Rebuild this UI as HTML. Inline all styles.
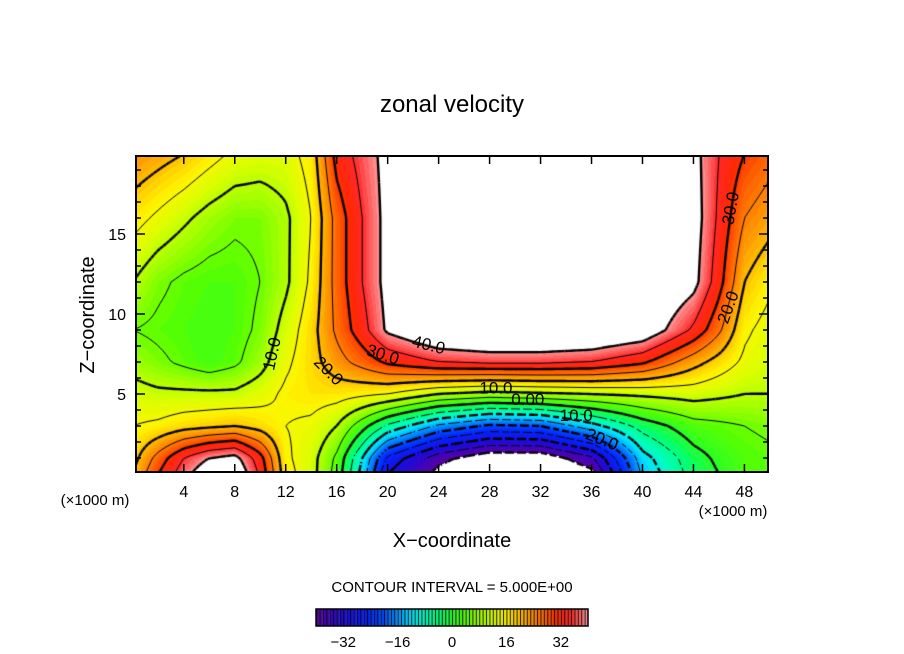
<!DOCTYPE html>
<html><head><meta charset="utf-8"><style>
body{margin:0;background:#fff;width:904px;height:654px;overflow:hidden;position:relative;font-family:"Liberation Sans",sans-serif}
canvas,svg{position:absolute;left:0;top:0}
</style></head><body>
<canvas id="fill" width="904" height="654"></canvas>
<svg id="ov" width="904" height="654" font-family="Liberation Sans, sans-serif"></svg>
<script>
// data
const xCoords=[0,2,4,6,8,10,12,14,16,18,20,24,28,32,36,40,44,46,48,50];
const zCoords=[0,1,3,5,7,9,12,16,20];
const uZ0 =[20,30,38,45,46,34,17,12,3,-12,-30,-42,-48,-48,-42,-14,-3,0,3,4];
const uZ1 =[18,27,35,40,42,32,16,12,4,-10,-26,-38,-44,-44,-36,-12,-2,1,3,4];
const uZ3 =[15,16,18,19,20,18,15,14,10,2,-6,-16,-21,-20,-12,-3,3,4,5,6];
const uZ5 =[12,11,11,11,11,13,16,17,17,16,15,10,8,9,10,11,12,11,10,10];
const uZ7 =[8,6,4,2,4,8,14,18,23,27,31,35,36,36,35,31,22,18,14,12];
const uZ9 =[5,4,3,2,3,6,12,18,26,33,41,47,49,49,48,45,34,26,16,13];
const uZ12=[10,6,4,3,3,5,9,16,27,35,42,50,50,50,50,48,42,32,20,16];
const uZ16=[17,14,11,8,6,6,9,15,27,35,42,50,50,50,50,48,43,34,25,22];
const uZ20=[24,22,20,17,14,13,13,17,32,37,42,50,50,50,50,48,42,35,30,27];
const rows=[uZ0,uZ1,uZ3,uZ5,uZ7,uZ9,uZ12,uZ16,uZ20];
const xTicks=[4,8,12,16,20,24,28,32,36,40,44,48];
const zTicks=[5,10,15];
const cbTicks=[-32,-16,0,16,32];
const contourLevels=[-40,-35,-30,-25,-20,-15,-10,-5,0,5,10,15,20,25,30,35,40];
const contourLabels=[["10.0",11.0,7.5,-78],["20.0",15.3,6.4,45],["30.0",19.6,7.4,18],["40.0",23.2,8.0,14],["10.0",28.5,5.3,0],["0.00",31.0,4.6,0],["10.0",34.8,3.6,0],["20.0",36.8,2.1,22],["30.0",47.0,16.6,-80],["20.0",46.8,10.4,-70]];

// axes
const PX0=136,PX1=768,PY0=156,PY1=472;
const XMIN=0.25,XMAX=49.85,ZMIN=0.125,ZMAX=19.875;
const sx=x=>PX0+(x-XMIN)/(XMAX-XMIN)*(PX1-PX0);
const sz=z=>PY1-(z-ZMIN)/(ZMAX-ZMIN)*(PY1-PY0);
const ix=p=>XMIN+(p-PX0)/(PX1-PX0)*(XMAX-XMIN);
const iz=p=>ZMIN+(PY1-p)/(PY1-PY0)*(ZMAX-ZMIN);
function seg(arr,v){let i=0;while(i<arr.length-2&&v>arr[i+1])i++;let t=(v-arr[i])/(arr[i+1]-arr[i]);t=Math.max(0,Math.min(1,t));return [i,t];}
function field(x,z){const [i,tx]=seg(xCoords,x),[j,tz]=seg(zCoords,z);
 const a=rows[j][i],b=rows[j][i+1],c=rows[j+1][i],d=rows[j+1][i+1];
 return (a*(1-tx)+b*tx)*(1-tz)+(c*(1-tx)+d*tx)*tz;}
const stops=[[-40,[90,0,160]],[-32,[30,10,220]],[-24,[0,40,255]],[-20,[0,80,255]],[-16,[0,150,255]],[-12,[0,225,255]],[-8,[0,255,190]],[-4,[0,255,120]],[0,[40,255,40]],[4,[90,255,0]],[8,[160,255,0]],[12,[215,255,0]],[16,[255,245,0]],[19,[255,205,0]],[23,[255,150,0]],[27,[255,100,0]],[31,[255,40,0]],[35,[255,40,40]],[38,[255,110,110]],[40,[255,150,150]]];
function col(v){if(v>40||v<-40)return [255,255,255];v=Math.floor(v)+0.5;
 for(let k=0;k<stops.length-1;k++){if(v<=stops[k+1][0]){const t=(v-stops[k][0])/(stops[k+1][0]-stops[k][0]);const a=stops[k][1],b=stops[k+1][1];return a.map((q,n)=>Math.round(q+(b[n]-q)*t));}}
 return stops[stops.length-1][1];}
const cv=document.getElementById('fill'),ctx=cv.getContext('2d');
const img=ctx.createImageData(PX1-PX0,PY1-PY0);
for(let py=0;py<PY1-PY0;py++)for(let px=0;px<PX1-PX0;px++){const c=col(field(ix(PX0+px+0.5),iz(PY0+py+0.5)));const o=(py*(PX1-PX0)+px)*4;img.data[o]=c[0];img.data[o+1]=c[1];img.data[o+2]=c[2];img.data[o+3]=255;}
ctx.putImageData(img,PX0,PY0);
// colorbar
const CB0=316,CB1=588;
for(let v=-40;v<40;v++){const x0=CB0+(v+40)/80*(CB1-CB0),w=(CB1-CB0)/80;const c=col(v);ctx.fillStyle=`rgb(${c})`;ctx.fillRect(x0,609,w,17);ctx.fillStyle='#000';ctx.fillRect(x0,609,1,17);}
// contours (marching squares)
ctx.save();ctx.beginPath();ctx.rect(PX0,PY0,PX1-PX0,PY1-PY0);ctx.clip();
const G=3,nx=Math.ceil((PX1-PX0)/G),ny=Math.ceil((PY1-PY0)/G);
const F=[];for(let j=0;j<=ny;j++){F[j]=[];for(let i=0;i<=nx;i++)F[j][i]=field(ix(PX0+i*G),iz(PY0+j*G));}
contourLevels.forEach(L=>{ctx.strokeStyle='#000';ctx.lineWidth=(L%10===0)?2.4:1;
 for(let j=0;j<ny;j++)for(let i=0;i<nx;i++){
  if(L<0&&((i+j)%4===0))continue;
  const v=[F[j][i],F[j][i+1],F[j+1][i+1],F[j+1][i]];
  const p=[[i,j],[i+1,j],[i+1,j+1],[i,j+1]];const pts=[];
  for(let e=0;e<4;e++){const a=v[e],b=v[(e+1)%4];if((a<L)!==(b<L)){const t=(L-a)/(b-a);const A=p[e],B=p[(e+1)%4];pts.push([PX0+(A[0]+(B[0]-A[0])*t)*G,PY0+(A[1]+(B[1]-A[1])*t)*G]);}}
  if(pts.length>=2){ctx.beginPath();ctx.moveTo(pts[0][0],pts[0][1]);ctx.lineTo(pts[1][0],pts[1][1]);if(pts.length===4){ctx.moveTo(pts[2][0],pts[2][1]);ctx.lineTo(pts[3][0],pts[3][1]);}ctx.stroke();}
 }});
ctx.restore();
// overlay svg
const NS='http://www.w3.org/2000/svg',svg=document.getElementById('ov');
function el(t,a,txt){const e=document.createElementNS(NS,t);for(const k in a)e.setAttribute(k,a[k]);if(txt!==undefined)e.textContent=txt;svg.appendChild(e);return e;}
contourLabels.forEach(l=>{const x=sx(l[1]),y=sz(l[2]);
 const t=el('text',{x:x,y:y,'font-size':17,'text-anchor':'middle','dominant-baseline':'middle',transform:`rotate(${l[3]} ${x} ${y})`,fill:'#000'},l[0]);
 
 });
const frame=el('rect',{x:PX0,y:PY0,width:PX1-PX0,height:PY1-PY0,fill:'none',stroke:'#000','stroke-width':2});


xTicks.forEach(v=>{const x=sx(v);
 el('line',{x1:x,x2:x,y1:PY1,y2:PY1-8,stroke:'#000','stroke-width':1.5});
 el('line',{x1:x,x2:x,y1:PY0,y2:PY0+8,stroke:'#000','stroke-width':1.5});
 const t=el('text',{x:x,y:497,'font-size':16,'text-anchor':'middle'},String(v));
 
 });
for(let z=1;z<20;z++){const y=sz(z),len=(z%5===0)?9:5;
 el('line',{x1:PX0,x2:PX0+len,y1:y,y2:y,stroke:'#000','stroke-width':1.5});
 el('line',{x1:PX1,x2:PX1-len,y1:y,y2:y,stroke:'#000','stroke-width':1.5});}
zTicks.forEach(v=>{const t=el('text',{x:126,y:sz(v)+6,'font-size':16,'text-anchor':'end'},String(v));
 
 });
cbTicks.forEach(v=>{const t=el('text',{x:CB0+(v+40)/80*(CB1-CB0),y:647,'font-size':15,'text-anchor':'middle'},v<0?'\u2212'+(-v):String(v));
 
 });
const cbf=el('rect',{x:CB0,y:609,width:CB1-CB0,height:17,fill:'none',stroke:'#000','stroke-width':1.5});


</script>
<svg width="904" height="654" style="position:absolute;left:0;top:0" font-family="Liberation Sans, sans-serif">
<text x="452" y="112" font-size="24" text-anchor="middle">zonal velocity</text>
<text x="95" y="505" font-size="15" text-anchor="middle">(×1000 m)</text>
<text x="733" y="516" font-size="15" text-anchor="middle">(×1000 m)</text>
<text x="452" y="547" font-size="20" text-anchor="middle">X−coordinate</text>
<text x="0" y="0" font-size="20" text-anchor="middle" transform="translate(94 315) rotate(-90)">Z−coordinate</text>
<text x="452" y="592" font-size="15" text-anchor="middle">CONTOUR INTERVAL = 5.000E+00</text>
</svg>
</body></html>
